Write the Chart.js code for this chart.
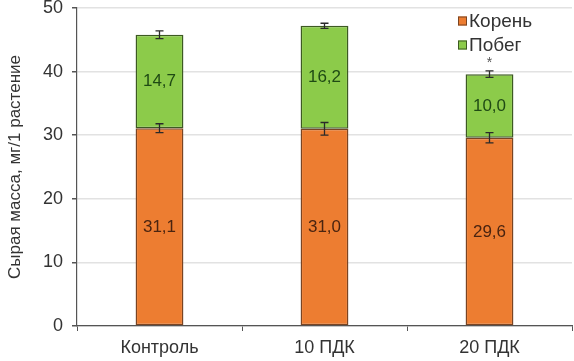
<!DOCTYPE html>
<html><head><meta charset="utf-8">
<script src="https://cdn.jsdelivr.net/npm/chart.js@4/dist/chart.umd.min.js"></script>
<style>html,body{margin:0;padding:0;background:#fff}#wrap{width:574px;height:361px}</style>
</head><body><div id="wrap"><canvas id="c"></canvas></div>
<script>
const categories = ["Контроль", "10 ПДК", "20 ПДК"];
const rootValues = [31.1, 31.0, 29.6];
const shootValues = [14.7, 16.2, 10.0];
const rootErrors = [0.7, 1.0, 0.8];
const shootErrors = [0.6, 0.4, 0.5];
const significance = ["", "", "*"];
const seriesNames = ["Корень", "Побег"];
const yTicks = [0, 10, 20, 30, 40, 50];

const FONT = "'Liberation Sans', Arial, sans-serif";

const overlay = {
  id: 'overlay',
  afterDatasetsDraw(chart) {
    const ctx = chart.ctx, y = chart.scales.y;
    ctx.save();
    ctx.font = "17px " + FONT;
    ctx.textAlign = 'center'; ctx.textBaseline = 'middle';
    const m0 = chart.getDatasetMeta(0);
    categories.forEach((c, i) => {
      const x = m0.data[i].x;
      ctx.fillStyle = '#4a2410';
      ctx.fillText(rootValues[i].toFixed(1).replace('.', ','), x, y.getPixelForValue(rootValues[i] / 2));
      ctx.fillStyle = '#1f4a14';
      ctx.fillText(shootValues[i].toFixed(1).replace('.', ','), x, y.getPixelForValue(rootValues[i] + shootValues[i] / 2));
    });
    ctx.strokeStyle = '#2a2a2a'; ctx.lineWidth = 1.3;
    const eb = (x, v, e) => {
      const a = y.getPixelForValue(v - e), b = y.getPixelForValue(v + e);
      ctx.beginPath();
      ctx.moveTo(x, a); ctx.lineTo(x, b);
      ctx.moveTo(x - 4, a); ctx.lineTo(x + 4, a);
      ctx.moveTo(x - 4, b); ctx.lineTo(x + 4, b);
      ctx.stroke();
    };
    categories.forEach((c, i) => {
      const x = m0.data[i].x;
      eb(x, rootValues[i], rootErrors[i]);
      const t = rootValues[i] + shootValues[i];
      eb(x, t, shootErrors[i]);
      if (significance[i]) {
        ctx.fillStyle = '#555';
        ctx.font = "14px " + FONT;
        ctx.fillText(significance[i], x, y.getPixelForValue(t + shootErrors[i]) - 8);
      }
    });
    const lx = 458, ly = [21, 45];
    const fills = ['#ED7D31', '#8CCB4A'], borders = ['#7a4422', '#3d5a22'];
    ctx.font = "19px " + FONT; ctx.textAlign = 'left';
    seriesNames.forEach((n, k) => {
      ctx.fillStyle = fills[k]; ctx.strokeStyle = borders[k]; ctx.lineWidth = 1;
      ctx.fillRect(lx, ly[k] - 4.5, 9, 9); ctx.strokeRect(lx + 0.5, ly[k] - 4, 8, 8);
      ctx.fillStyle = '#333';
      ctx.fillText(n, lx + 11, ly[k] + 1);
    });
    ctx.restore();
  }
};

new Chart(document.getElementById('c'), {
  type: 'bar',
  data: {
    labels: categories,
    datasets: [
      { label: seriesNames[0], data: rootValues, backgroundColor: '#ED7D31', borderColor: '#7a4422', borderWidth: 1.5, borderSkipped: false, barPercentage: 0.58, categoryPercentage: 0.5 },
      { label: seriesNames[1], data: shootValues, backgroundColor: '#8CCB4A', borderColor: '#3d5a22', borderWidth: 1.5, borderSkipped: false, barPercentage: 0.58, categoryPercentage: 0.5 }
    ]
  },
  options: {
    responsive: true, maintainAspectRatio: false, animation: false,
    layout: { padding: { top: 8, right: 2, left: 0, bottom: 0 } },
    plugins: { legend: { display: false }, tooltip: { enabled: false } },
    scales: {
      x: {
        stacked: true,
        afterFit(s) { s.height = 35; s.paddingLeft = 0; s.paddingRight = 0; },
        border: { color: '#555', width: 1.2 },
        grid: { offset: true, drawOnChartArea: false, drawTicks: true, tickLength: 5, color: '#555' },
        ticks: { color: '#333', font: { size: 18, family: FONT }, padding: 6 }
      },
      y: {
        stacked: true, min: 0, max: 50,
        afterFit(s) { s.width = 77; s.paddingTop = 0; s.paddingBottom = 0; },
        afterBuildTicks(s) { s.ticks = yTicks.map(v => ({ value: v })); },
        border: { color: '#555', width: 1.2 },
        grid: { color: '#e2e2e2', lineWidth: 1.5, tickLength: 5, tickColor: '#555' },
        ticks: { color: '#333', font: { size: 18, family: FONT }, padding: 9 },
        title: { display: true, text: 'Сырая масса, мг/1 растение', color: '#333', font: { size: 17, family: FONT }, padding: { top: 5, bottom: 0 } }
      }
    }
  },
  plugins: [overlay]
});
</script></body></html>
